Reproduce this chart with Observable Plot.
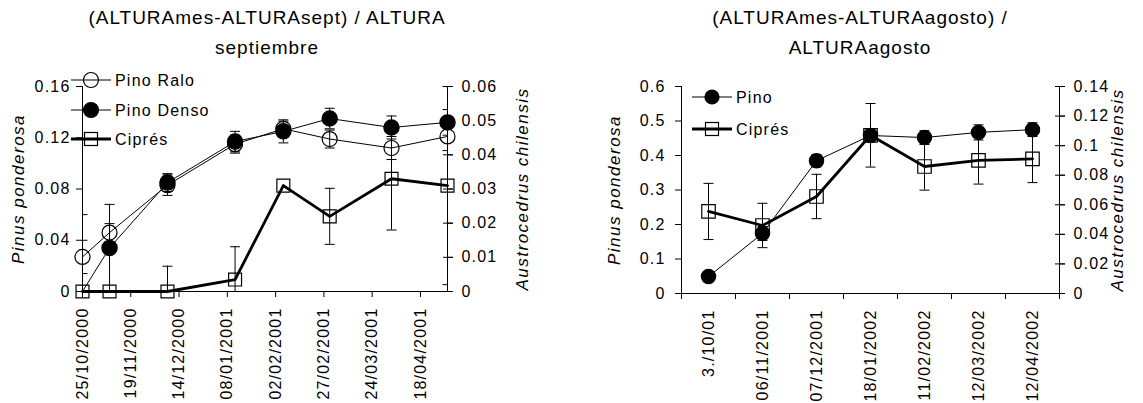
<!DOCTYPE html>
<html><head><meta charset="utf-8">
<script src="https://cdn.jsdelivr.net/npm/d3@7"></script>
<script src="https://cdn.jsdelivr.net/npm/@observablehq/plot@0.6"></script>
<style>
body{margin:0;background:#fff;font-family:"Liberation Sans",Arial,sans-serif;color:#000;}
#wrap{position:relative;width:1143px;height:403px;overflow:hidden;background:#fff;}
.title{position:absolute;text-align:center;font-size:19px;letter-spacing:1px;line-height:30px;}
.ytitle{position:absolute;font-style:italic;font-size:17px;letter-spacing:1.5px;white-space:nowrap;transform:translate(-50%,-50%) rotate(-90deg);}
.panel{position:absolute;}
.legend{position:absolute;}
</style></head>
<body><div id="wrap"></div>
<script>
// ---------- data: left chart ----------
const leftTitle = ["(ALTURAmes-ALTURAsept) / ALTURA", "septiembre"];
const leftDates = ["25/10/2000","08/11/2000","08/12/2000","12/01/2001","06/02/2001","02/03/2001","03/04/2001","02/05/2001"];
const pinoRalo      = [0.027, 0.046, 0.083, 0.115, 0.127, 0.119, 0.112, 0.121];
const pinoRaloErr   = [0.013, 0.007, 0.008, 0.007, 0.006, 0.007, 0.009, 0.011];
const pinoDenso     = [0.000, 0.034, 0.085, 0.117, 0.125, 0.135, 0.128, 0.132];
const pinoDensoErr  = [0.000, 0.034, 0.007, 0.008, 0.009, 0.008, 0.009, 0.010];
const cipresL       = [0.000, 0.000, 0.000, 0.0035, 0.031, 0.022, 0.033, 0.031];
const cipresLErr    = [0.0225, 0.000, 0.0074, 0.0096, 0.000, 0.0082, 0.015, 0.029];
const leftXTickLabels = ["25/10/2000","19/11/2000","14/12/2000","08/01/2001","02/02/2001","27/02/2001","24/03/2001","18/04/2001"];
const leftXDomain = ["25/10/2000","02/05/2001"];
const leftYTicks = [0, 0.04, 0.08, 0.12, 0.16];
const leftYTickLabels = ["0","0.04","0.08","0.12","0.16"];
const leftY2Ticks = [0, 0.01, 0.02, 0.03, 0.04, 0.05, 0.06];
const leftY2TickLabels = ["0","0.01","0.02","0.03","0.04","0.05","0.06"];
const leftLegend = ["Pino Ralo","Pino Denso","Ciprés"];

// ---------- data: right chart ----------
const rightTitle = ["(ALTURAmes-ALTURAagosto) /", "ALTURAagosto"];
const rightCats = ["3./10/01","06/11/2001","07/12/2001","18/01/2002","11/02/2002","12/03/2002","12/04/2002"];
const pino       = [0.049, 0.174, 0.385, 0.458, 0.452, 0.467, 0.475];
const pinoErr    = [0.010, 0.020, 0.018, 0.015, 0.020, 0.022, 0.020];
const cipresR    = [0.0555, 0.046, 0.0656, 0.107, 0.0859, 0.090, 0.091];
const cipresRErr = [0.019, 0.015, 0.015, 0.0215, 0.016, 0.016, 0.016];
const rightYTicks = [0, 0.1, 0.2, 0.3, 0.4, 0.5, 0.6];
const rightYTickLabels = ["0","0.1","0.2","0.3","0.4","0.5","0.6"];
const rightY2Ticks = [0, 0.02, 0.04, 0.06, 0.08, 0.1, 0.12, 0.14];
const rightY2TickLabels = ["0","0.02","0.04","0.06","0.08","0.1","0.12","0.14"];
const rightLegend = ["Pino","Ciprés"];

const yLeftTitle = "Pinus ponderosa";
const yRightTitle = "Austrocedrus chilensis";

// ---------- helpers ----------
const parse = d3.utcParse("%d/%m/%Y");
const capSymbol = {draw(ctx, size){ const r = Math.sqrt(size/Math.PI); ctx.moveTo(-r,0); ctx.lineTo(r,0); }};
const FONT = "'Liberation Sans', Arial, sans-serif";
const wrap = document.getElementById("wrap");

function addTitle(lines, left, width){
  const el = document.createElement("div");
  el.className = "title";
  el.style.left = left + "px"; el.style.top = "3px"; el.style.width = width + "px";
  el.innerHTML = lines.join("<br>");
  wrap.appendChild(el);
}
function addYTitle(text, cx, cy){
  const el = document.createElement("div");
  el.className = "ytitle";
  el.style.left = cx + "px"; el.style.top = cy + "px";
  el.textContent = text;
  wrap.appendChild(el);
}
function addLegend(items, left, top, rowY){
  const ns = "http://www.w3.org/2000/svg";
  const svg = document.createElementNS(ns, "svg");
  svg.setAttribute("width", 170); svg.setAttribute("height", 90);
  svg.setAttribute("class","legend");
  svg.style.left = left + "px"; svg.style.top = top + "px";
  items.forEach((it, i) => {
    const y = rowY[i];
    const line = document.createElementNS(ns, "line");
    line.setAttribute("x1", 0); line.setAttribute("x2", 40);
    line.setAttribute("y1", y); line.setAttribute("y2", y);
    line.setAttribute("stroke", "#000"); line.setAttribute("stroke-width", it.sw);
    svg.appendChild(line);
    let m;
    if (it.shape === "square") {
      m = document.createElementNS(ns, "rect");
      m.setAttribute("x", 20 - 6.5); m.setAttribute("y", y - 6.5);
      m.setAttribute("width", 13); m.setAttribute("height", 13);
    } else {
      m = document.createElementNS(ns, "circle");
      m.setAttribute("cx", 20); m.setAttribute("cy", y); m.setAttribute("r", it.r);
    }
    m.setAttribute("fill", it.fill); m.setAttribute("stroke", "#000"); m.setAttribute("stroke-width", 1.2);
    svg.appendChild(m);
    const t = document.createElementNS(ns, "text");
    t.setAttribute("x", 44); t.setAttribute("y", y); t.setAttribute("dy", "0.35em");
    t.setAttribute("font-size", 16); t.setAttribute("font-family", FONT);
    t.setAttribute("letter-spacing", "1.2px");
    t.textContent = it.label;
    svg.appendChild(t);
  });
  wrap.appendChild(svg);
}

function errMarks(rows, x, v, e, k = 1) {
  const R = rows.filter(d => d[e] > 0);
  const o = {x, stroke: "#000", strokeWidth: 1, clip: true};
  return [
    Plot.ruleX(R, {...o, y1: d => (d[v] - d[e]) * k, y2: d => (d[v] + d[e]) * k}),
    Plot.dot(R, {...o, y: d => (d[v] + d[e]) * k, symbol: capSymbol, r: 5}),
    Plot.dot(R, {...o, y: d => (d[v] - d[e]) * k, symbol: capSymbol, r: 5})
  ];
}

const plotStyle = {fontSize: "16px", fontFamily: FONT, letterSpacing: "1.2px", color: "#000", background: "transparent", overflow: "visible"};

// ---------- left chart ----------
{
  const rows = leftDates.map((s, i) => ({date: parse(s), ralo: pinoRalo[i], raloE: pinoRaloErr[i], denso: pinoDenso[i], densoE: pinoDensoErr[i], cip: cipresL[i], cipE: cipresLErr[i]}));
  const k = leftYTicks[leftYTicks.length-1] / leftY2Ticks[leftY2Ticks.length-1];
  const y2Scaled = leftY2Ticks.map(v => v * k);
  const xTicks = leftXTickLabels.map(parse);
  const dom = leftXDomain.map(parse);
  const W = 560, H = 343;
  const chart = Plot.plot({
    width: W, height: H,
    marginLeft: 82, marginRight: 113, marginTop: 26, marginBottom: 112,
    style: plotStyle,
    x: {type: "utc", domain: dom},
    y: {domain: [0, leftYTicks[leftYTicks.length-1]]},
    marks: [
      Plot.ruleY([0], {stroke: "#000"}),
      Plot.ruleX(dom, {stroke: "#000"}),
      ...errMarks(rows, "date", "ralo", "raloE"),
      ...errMarks(rows, "date", "denso", "densoE"),
      ...errMarks(rows, "date", "cip", "cipE", k),
      Plot.lineY(rows, {x: "date", y: "ralo", stroke: "#000", strokeWidth: 1}),
      Plot.lineY(rows, {x: "date", y: "denso", stroke: "#000", strokeWidth: 1}),
      Plot.lineY(rows, {x: "date", y: d => d.cip * k, stroke: "#000", strokeWidth: 2.8}),
      Plot.dot(rows, {x: "date", y: "ralo", r: 7.5, fill: "none", stroke: "#000", strokeWidth: 1.2}),
      Plot.dot(rows.filter(d => d.denso > 0), {x: "date", y: "denso", r: 7.5, fill: "#000", stroke: "#000"}),
      Plot.dot(rows, {x: "date", y: d => d.cip * k, symbol: "square", r: 7.3, fill: "none", stroke: "#000", strokeWidth: 1.2}),
      Plot.axisX({ticks: xTicks, tickFormat: d3.utcFormat("%d/%m/%Y"), tickRotate: -90, tickSize: 6, tickPadding: 10, label: null}),
      Plot.axisY({ticks: leftYTicks, tickFormat: d => leftYTickLabels[leftYTicks.indexOf(d)], tickSize: 6, tickPadding: 6, label: null}),
      Plot.axisY({anchor: "right", ticks: y2Scaled, tickFormat: () => "", tickSize: 10, dx: -5, label: null}),
      Plot.axisY({anchor: "right", ticks: y2Scaled, tickFormat: d => leftY2TickLabels[y2Scaled.indexOf(d)], tickSize: 5, tickPadding: 9, label: null})
    ]
  });
  const p = document.createElement("div");
  p.className = "panel"; p.style.left = "0px"; p.style.top = "60px";
  p.appendChild(chart);
  wrap.appendChild(p);
  addTitle(leftTitle, 0, 534);
  addYTitle(yLeftTitle, 19, 189);
  addYTitle(yRightTitle, 523, 189);
  addLegend([
    {label: leftLegend[0], shape: "circle", r: 7.5, fill: "none", sw: 1},
    {label: leftLegend[1], shape: "circle", r: 7.5, fill: "#000", sw: 1},
    {label: leftLegend[2], shape: "square", fill: "none", sw: 2.8}
  ], 71, 68, [12, 42, 71]);
}

// ---------- right chart ----------
{
  const rows = rightCats.map((c, i) => ({i: i + 0.5, pino: pino[i], pinoE: pinoErr[i], cip: cipresR[i], cipE: cipresRErr[i]}));
  const k = rightYTicks[rightYTicks.length-1] / rightY2Ticks[rightY2Ticks.length-1];
  const y2Scaled = rightY2Ticks.map(v => v * k);
  const bounds = d3.range(rightCats.length + 1);
  const centers = rightCats.map((c, i) => i + 0.5);
  const W = 563, H = 343;
  const chart = Plot.plot({
    width: W, height: H,
    marginLeft: 101, marginRight: 84, marginTop: 26, marginBottom: 110,
    style: plotStyle,
    x: {type: "linear", domain: [0, rightCats.length]},
    y: {domain: [0, rightYTicks[rightYTicks.length-1]]},
    marks: [
      Plot.ruleY([0], {stroke: "#000"}),
      Plot.ruleX([0, rightCats.length], {stroke: "#000"}),
      ...errMarks(rows, "i", "pino", "pinoE"),
      ...errMarks(rows, "i", "cip", "cipE", k),
      Plot.lineY(rows, {x: "i", y: "pino", stroke: "#000", strokeWidth: 1}),
      Plot.lineY(rows, {x: "i", y: d => d.cip * k, stroke: "#000", strokeWidth: 2.8}),
      Plot.dot(rows, {x: "i", y: "pino", r: 7, fill: "#000", stroke: "#000"}),
      Plot.dot(rows, {x: "i", y: d => d.cip * k, symbol: "square", r: 7.6, fill: "none", stroke: "#000", strokeWidth: 1.2}),
      Plot.axisX({ticks: bounds, tickFormat: () => "", tickSize: 6, label: null}),
      Plot.axisX({ticks: centers, tickFormat: d => rightCats[centers.indexOf(d)], tickRotate: -90, tickSize: 0, tickPadding: 16, label: null}),
      Plot.axisY({ticks: rightYTicks, tickFormat: d => rightYTickLabels[rightYTicks.indexOf(d)], tickSize: 6, tickPadding: 10, label: null}),
      Plot.axisY({anchor: "right", ticks: y2Scaled, tickFormat: () => "", tickSize: 10, dx: -5, label: null}),
      Plot.axisY({anchor: "right", ticks: y2Scaled, tickFormat: d => rightY2TickLabels[y2Scaled.indexOf(d)], tickSize: 5, tickPadding: 9, label: null})
    ]
  });
  const p = document.createElement("div");
  p.className = "panel"; p.style.left = "580px"; p.style.top = "60px";
  p.appendChild(chart);
  wrap.appendChild(p);
  addTitle(rightTitle, 580, 560);
  addYTitle(yLeftTitle, 615, 190);
  addYTitle(yRightTitle, 1118, 190);
  addLegend([
    {label: rightLegend[0], shape: "circle", r: 7, fill: "#000", sw: 1},
    {label: rightLegend[1], shape: "square", fill: "none", sw: 2.8}
  ], 692, 70, [27, 59]);
}
</script>
</body></html>
